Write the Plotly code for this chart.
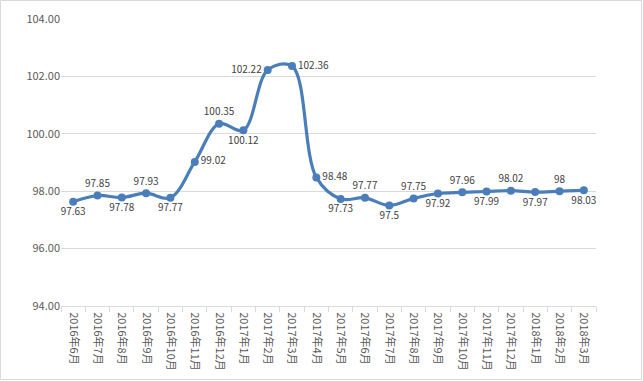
import plotly.graph_objects as go

months = ["2016年6月", "2016年7月", "2016年8月", "2016年9月", "2016年10月", "2016年11月",
          "2016年12月", "2017年1月", "2017年2月", "2017年3月", "2017年4月", "2017年5月",
          "2017年6月", "2017年7月", "2017年8月", "2017年9月", "2017年10月", "2017年11月",
          "2017年12月", "2018年1月", "2018年2月", "2018年3月"]
values = [97.63, 97.85, 97.78, 97.93, 97.77, 99.02, 100.35, 100.12, 102.22, 102.36, 98.48,
          97.73, 97.77, 97.5, 97.75, 97.92, 97.96, 97.99, 98.02, 97.97, 98, 98.03]
label_pos = ["bottom center", "top center", "bottom center", "top center", "bottom center",
             "middle right", "top center", "bottom center", "middle left", "middle right",
             "middle right", "bottom center", "top center", "bottom center", "top center",
             "bottom center", "top center", "bottom center", "top center", "bottom center",
             "top center", "bottom center"]
labels = [("%g" % v) for v in values]

W, H = 643, 381
L, R, T, B = 61, 47, 19, 75

fig = go.Figure()
fig.add_trace(go.Scatter(
    x=months, y=values, mode="lines+markers+text",
    line=dict(color="#4A7EBB", width=3.2, shape="spline", smoothing=1.0),
    marker=dict(color="#4A7EBB", size=8),
    text=labels, textposition=label_pos,
    textfont=dict(family="Noto Sans CJK SC, sans-serif", size=10, color="#404040"),
    cliponaxis=False, hoverinfo="x+y", showlegend=False,
))

fig.update_layout(
    width=W, height=H,
    margin=dict(l=L, r=R, t=T, b=B, pad=0),
    paper_bgcolor="white", plot_bgcolor="white",
    font=dict(family="Noto Sans CJK SC, sans-serif", size=11, color="#595959"),
    xaxis=dict(
        range=[-0.5, len(months) - 0.5], automargin=False,
        tickangle=90, ticks="outside", tickson="boundaries", ticklen=5,
        tickcolor="#D9D9D9", showline=True, linecolor="#D9D9D9", linewidth=1,
        showgrid=False, tickfont=dict(size=11, color="#595959"),
        ticklabelstandoff=3,
    ),
    yaxis=dict(
        range=[94, 104], dtick=2, tickformat=".2f", showgrid=True, automargin=False,
        gridcolor="#D9D9D9", gridwidth=1, zeroline=False, showline=False,
        ticks="", tickfont=dict(size=11, color="#595959"),
    ),
    shapes=[dict(
        type="rect", xref="paper", yref="paper",
        x0=-(L - 0.5) / (W - L - R), x1=1 + (R - 1.5) / (W - L - R),
        y0=-(B - 1.5) / (H - T - B), y1=1 + (T - 0.5) / (H - T - B),
        line=dict(color="#D9D9D9", width=1), layer="below",
    )],
)

fig.write_html("out.html", config={"displayModeBar": False},
               post_script="document.body.style.margin='0';")
